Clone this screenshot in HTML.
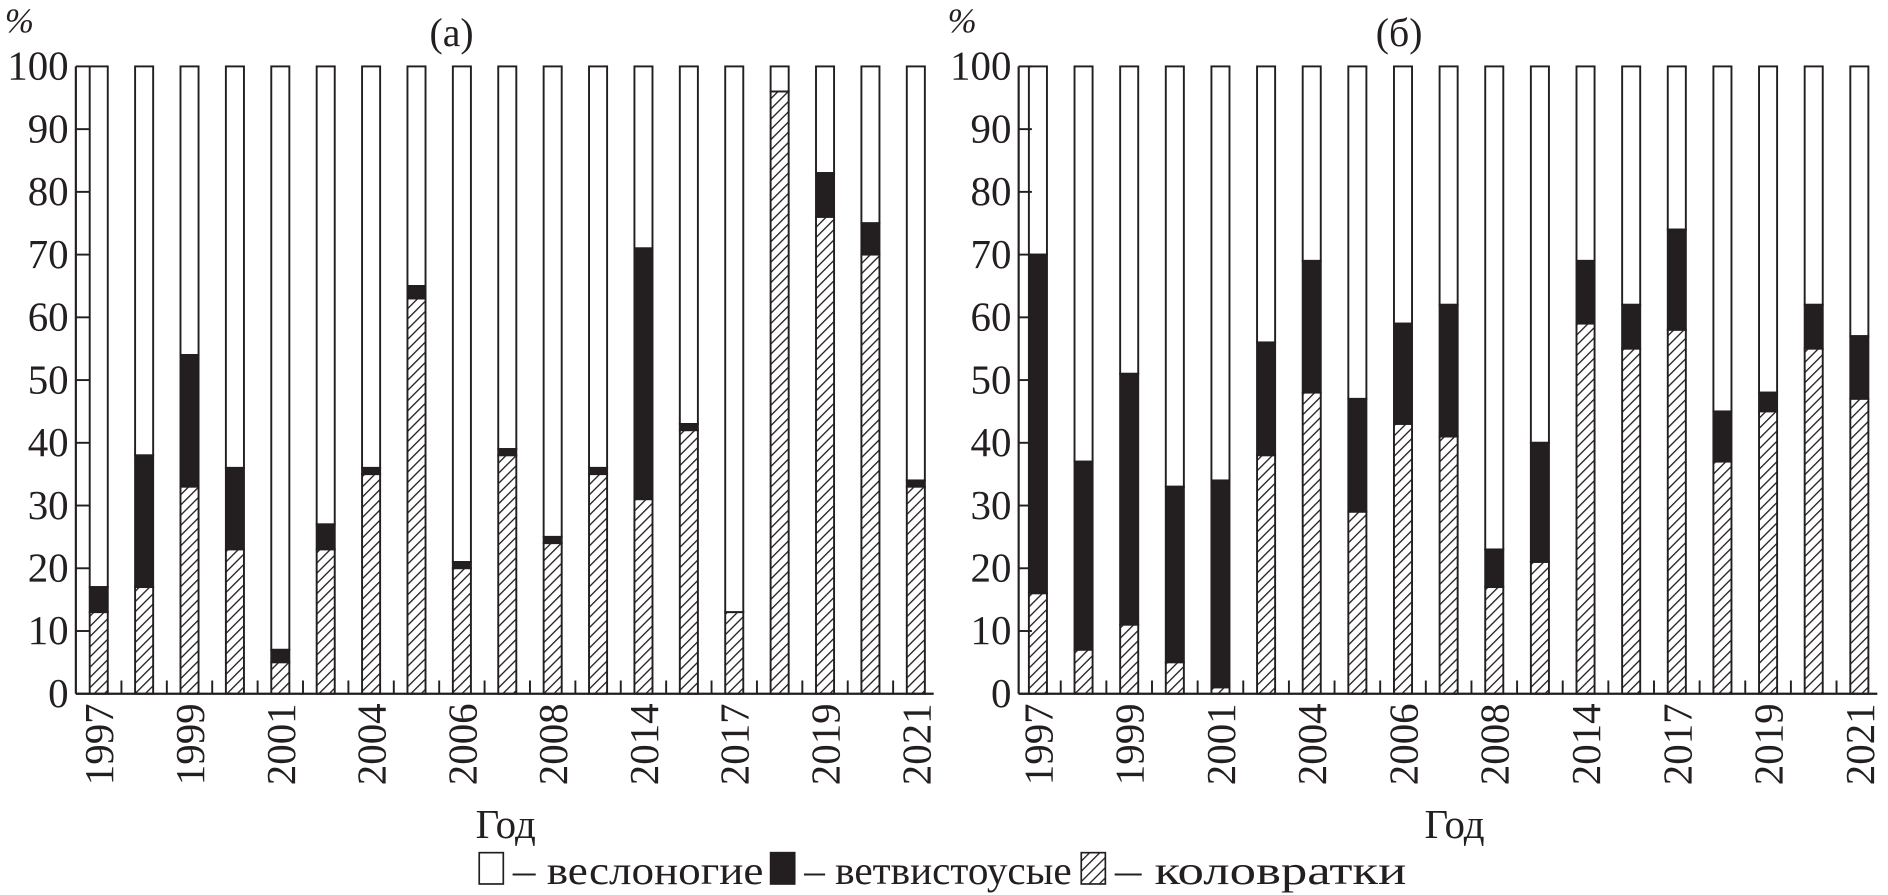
<!DOCTYPE html>
<html><head><meta charset="utf-8"><style>
html,body{margin:0;padding:0;background:#fff}
svg{display:block}
text{font-family:"Liberation Serif","DejaVu Serif",serif;fill:#231f20}
</style></head><body>
<svg id="chart" width="1888" height="895" viewBox="0 0 1568 743" xmlns="http://www.w3.org/2000/svg">
<defs>
<pattern id="hatch" patternUnits="userSpaceOnUse" width="6" height="6" patternTransform="rotate(45)">
<rect width="6" height="6" fill="#fff"/>
<line x1="0" y1="0" x2="0" y2="6" stroke="#231f20" stroke-width="2.2"/>
</pattern>
</defs>
<g id="layer"></g>
</svg>
<script>
const years = ["1997","1998","1999","2000","2001","2003","2004","2005","2006","2007","2008","2012","2014","2016","2017","2018","2019","2020","2021"];
const shownYears = ["1997","","1999","","2001","","2004","","2006","","2008","","2014","","2017","","2019","","2021"];
const rotifersA = [13,17,33,23,5,23,35,63,20,38,24,35,31,42,13,96,76,70,33];
const cladoceraTopA = [17,38,54,36,7,27,36,65,21,39,25,36,71,43,13,96,83,75,34];
const rotifersB = [16,7,11,5,1,38,48,29,43,41,17,21,59,55,58,37,45,55,47];
const cladoceraTopB = [70,37,51,33,34,56,69,47,59,62,23,40,69,62,74,45,48,62,57];
const yTicks = [0,10,20,30,40,50,60,70,80,90,100];

const NS = "http://www.w3.org/2000/svg";
const layer = document.getElementById("layer");
function mk(tag, attrs, parent){const e=document.createElementNS(NS,tag);for(const k in attrs)e.setAttribute(k,attrs[k]);(parent||layer).appendChild(e);return e;}

function panel(key, axX, firstX, step, title, titleX, rot, top, yearX){
  const y0=576, y100=55;
  const yS = v => y0 - (y0-y100)*v/100;
  const xS = i => firstX + i*step;
  const g = mk("g",{});
  
  
  const bw=15;
  years.forEach((yr,i)=>{
    const cx=xS(i);
    const b1 = mk("rect",{x:cx-bw/2,y:y100,width:bw,height:yS(top[i])-y100,fill:"#fff",stroke:"#231f20","stroke-width":1.6},g);
    
    
    const b2 = mk("rect",{x:cx-bw/2,y:yS(top[i]),width:bw,height:yS(rot[i])-yS(top[i]),fill:"#231f20",stroke:"#231f20","stroke-width":1.6},g);
    
    
    const b3 = mk("rect",{x:cx-bw/2,y:yS(rot[i]),width:bw,height:y0-yS(rot[i]),fill:"url(#hatch)",stroke:"#231f20","stroke-width":1.6},g);
    
    
    if(i>0){mk("line",{x1:cx-step/2,x2:cx-step/2,y1:y0,y2:y0-11,stroke:"#231f20","stroke-width":1.6},g);}
    if(shownYears[i]){
      const t=mk("text",{x:0,y:0,"font-size":34,"text-anchor":"end",transform:`translate(${cx+12},${y0+8}) rotate(-90)`},g);
      t.textContent=shownYears[i];
      
      
    }
  });
  const endX = xS(years.length-1)+step/2-4;
  mk("line",{x1:axX,x2:axX,y1:y100,y2:y0,stroke:"#231f20","stroke-width":1.8},g);
  mk("line",{x1:axX,x2:endX,y1:y0,y2:y0,stroke:"#231f20","stroke-width":1.8},g);
  yTicks.forEach(v=>{
    mk("line",{x1:axX,x2:axX+11,y1:yS(v),y2:yS(v),stroke:"#231f20","stroke-width":1.6},g);
    const t=mk("text",{x:axX-6,y:yS(v)+11,"font-size":34,"text-anchor":"end"},g);
    t.textContent=v;
    
    
  });
  const pc=mk("text",{x:axX-59,y:27,"font-size":29,"font-style":"italic"},g);
  pc.textContent="%";
  
  
  const tt=mk("text",{x:titleX,y:38,"font-size":33,"text-anchor":"middle"},g);
  tt.textContent=title;
  
  
  const xt=mk("text",{x:yearX,y:696,"font-size":34,"text-anchor":"middle"},g);
  xt.textContent="Год";
  
  
}
panel("a",63,82,37.7,"(а)",375,rotifersA,cladoceraTopA,420);
panel("b",846,862,37.9,"(б)",1162,rotifersB,cladoceraTopB,1208);

// legend
const lg = mk("g",{});


const items=[["#fff","– веслоногие",398,208],["#231f20","– ветвистоусые",640,222],["url(#hatch)","– коловратки",898,242]];
items.forEach(([f,label,x,len])=>{
  const r=mk("rect",{x:x,y:708,width:20,height:26,fill:f,stroke:"#231f20","stroke-width":1.4},lg);
  
  
  const t=mk("text",{x:x+28,y:734,"font-size":33,textLength:len,lengthAdjust:"spacingAndGlyphs"},lg);
  t.textContent=label;
  
  
});
</script>
</body></html>
